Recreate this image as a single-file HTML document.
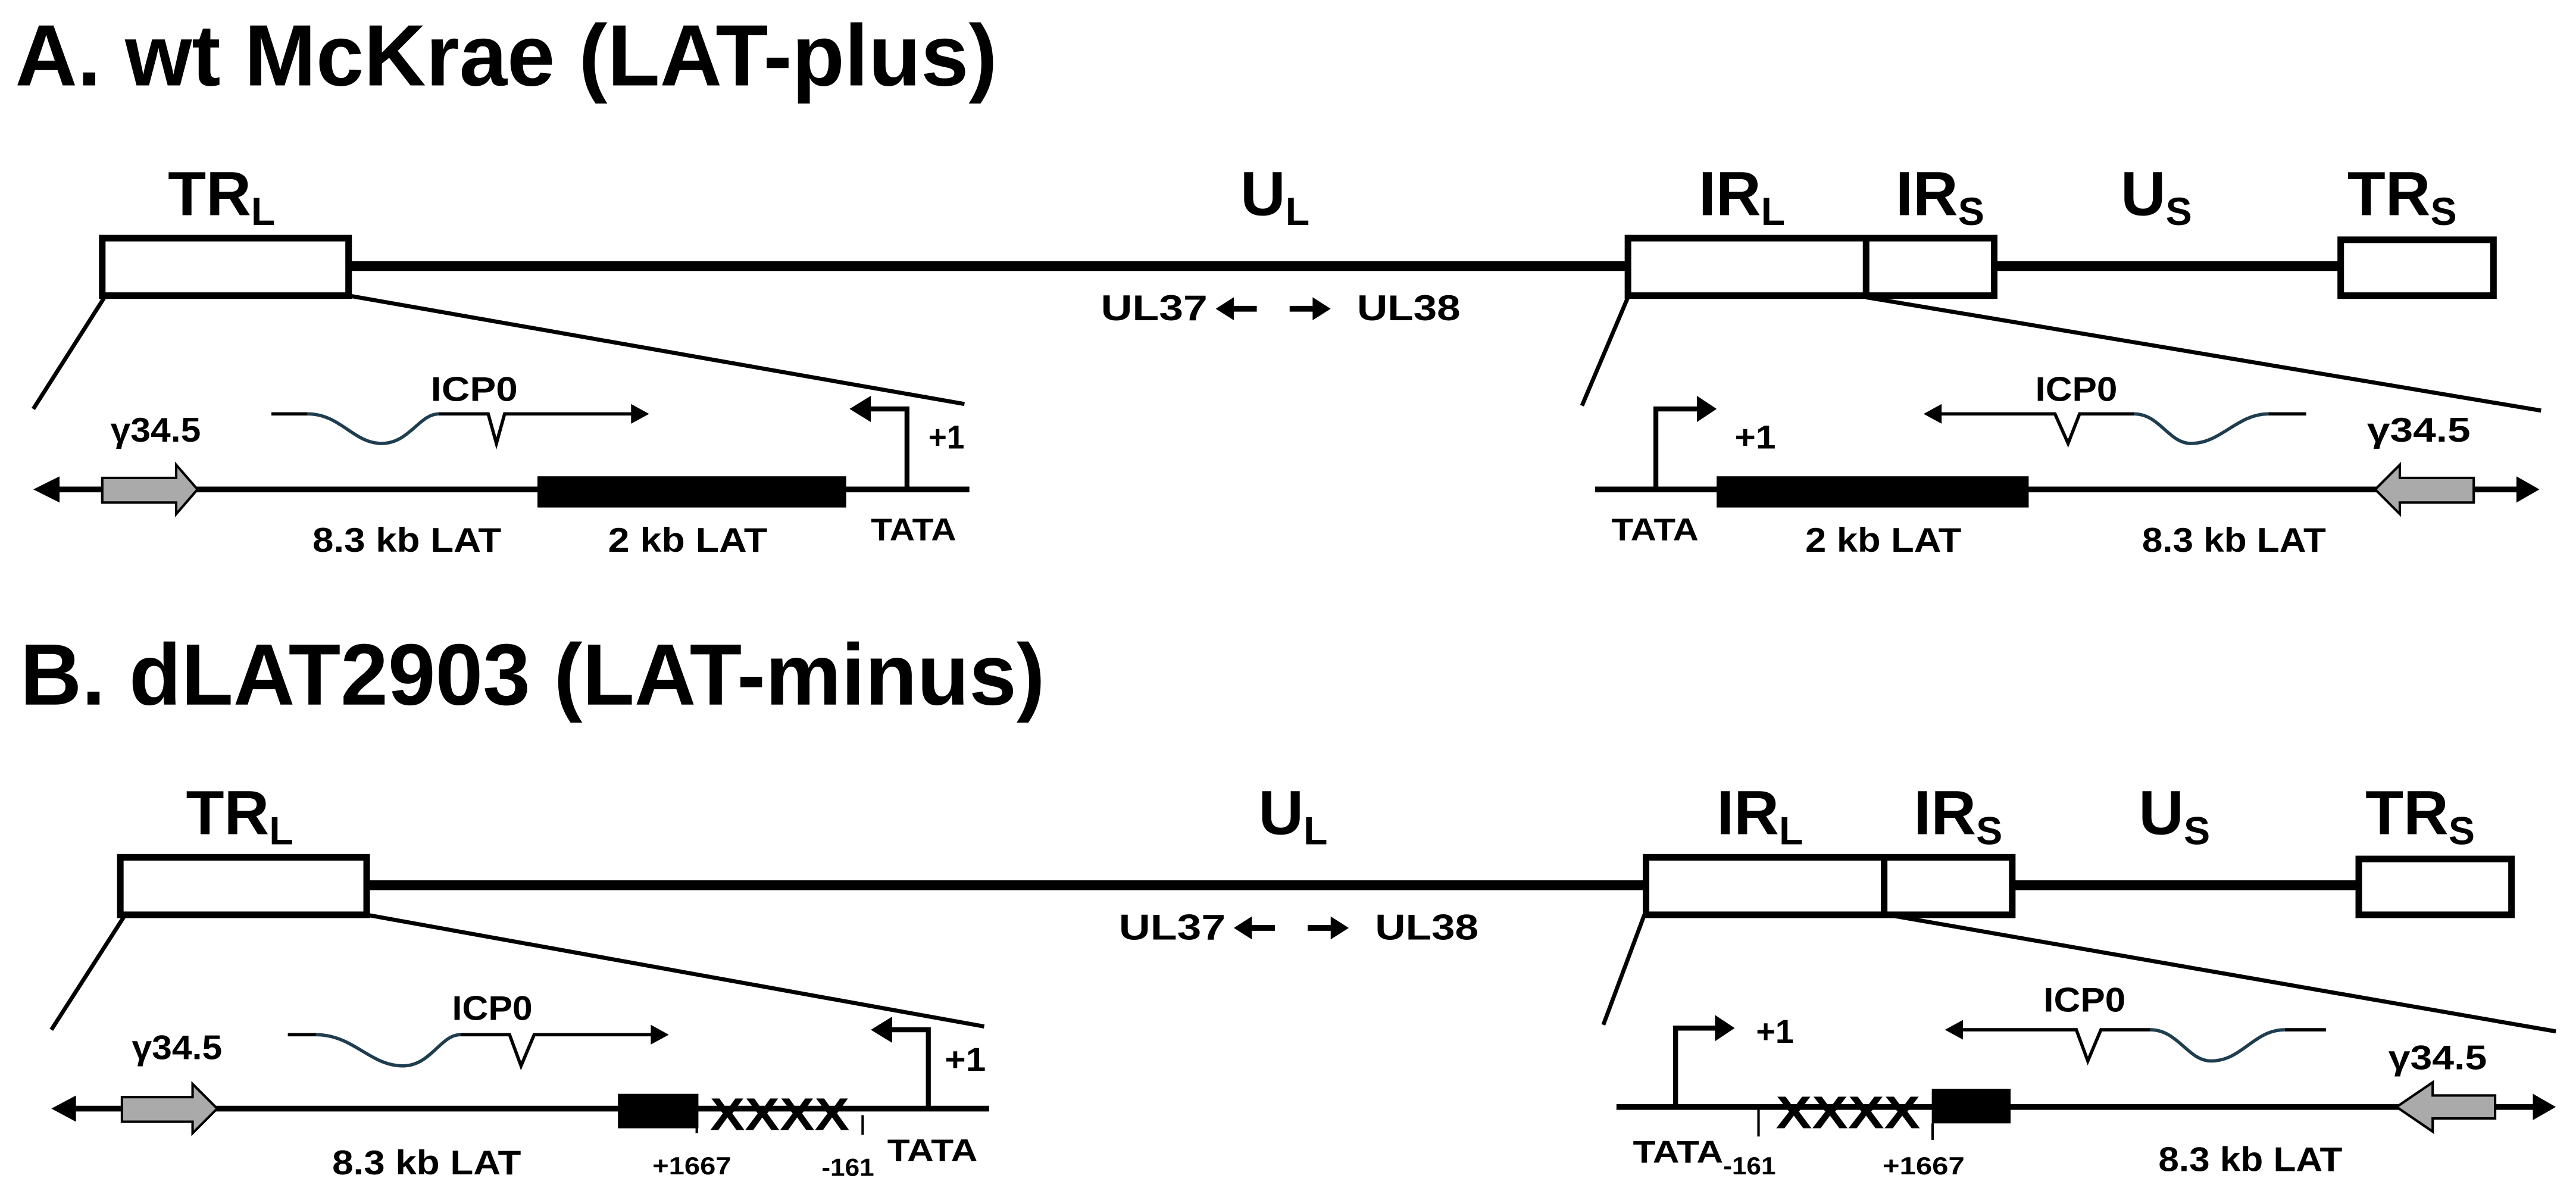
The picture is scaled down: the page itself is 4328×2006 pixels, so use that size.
<!DOCTYPE html>
<html><head><meta charset="utf-8"><style>html,body{margin:0;padding:0;background:#fff}svg{display:block}</style></head><body>
<svg width="4328" height="2006" viewBox="0 0 1568 727" xmlns="http://www.w3.org/2000/svg" font-family="Liberation Sans, Arial, sans-serif" font-weight="bold">
<rect width="1568" height="727" fill="#fff"/>

<!-- Titles -->
<text x="9" y="52" font-size="53" textLength="598" lengthAdjust="spacingAndGlyphs">A. wt McKrae (LAT-plus)</text>
<text x="12" y="429" font-size="53" textLength="624" lengthAdjust="spacingAndGlyphs">B. dLAT2903 (LAT-minus)</text>

<g id="genome">
  <line x1="212" y1="162" x2="991" y2="162" stroke="#000" stroke-width="6"/>
  <line x1="1214" y1="162" x2="1425" y2="162" stroke="#000" stroke-width="6"/>
  <rect x="62" y="145" width="150" height="35" fill="#fff" stroke="#000" stroke-width="4"/>
  <rect x="991" y="145" width="223" height="35" fill="#fff" stroke="#000" stroke-width="4"/>
  <line x1="1136" y1="145" x2="1136" y2="180" stroke="#000" stroke-width="4"/>
  <rect x="1425" y="146" width="93" height="34" fill="#fff" stroke="#000" stroke-width="4"/>
  <g font-size="38">
    <text x="102" y="131">TR<tspan font-size="24" dy="6">L</tspan></text>
    <text x="755" y="131">U<tspan font-size="24" dy="6">L</tspan></text>
    <text x="1034" y="131">IR<tspan font-size="24" dy="6">L</tspan></text>
    <text x="1154" y="131">IR<tspan font-size="24" dy="6">S</tspan></text>
    <text x="1291" y="131">U<tspan font-size="24" dy="6">S</tspan></text>
    <text x="1429" y="131">TR<tspan font-size="24" dy="6">S</tspan></text>
  </g>
  <text x="670" y="195" font-size="22" textLength="65" lengthAdjust="spacingAndGlyphs">UL37</text>
  <text x="826" y="195" font-size="22" textLength="63" lengthAdjust="spacingAndGlyphs">UL38</text>
  <line x1="748" y1="188" x2="765" y2="188" stroke="#000" stroke-width="3.5"/>
  <polygon points="740,188 751,181 751,195" fill="#000"/>
  <line x1="785" y1="188" x2="802" y2="188" stroke="#000" stroke-width="3.5"/>
  <polygon points="810,188 799,181 799,195" fill="#000"/>
</g>
<use href="#genome" transform="translate(11,377)"/>

<g stroke="#000" stroke-width="2.5">
  <line x1="64" y1="180" x2="20" y2="249"/>
  <line x1="212" y1="180" x2="587" y2="246"/>
  <line x1="991" y1="181" x2="963" y2="247"/>
  <line x1="1136" y1="181" x2="1547" y2="250"/>
  <line x1="76" y1="557" x2="31" y2="627"/>
  <line x1="223" y1="557" x2="599" y2="625"/>
  <line x1="1001" y1="557" x2="976" y2="624"/>
  <line x1="1149" y1="557" x2="1556" y2="628"/>
</g>

<!-- A lower left -->
<line x1="32" y1="298" x2="590" y2="298" stroke="#000" stroke-width="3.5"/>
<polygon points="20,298 36,290 36,306" fill="#000"/>
<polygon points="62,291 107,291 107,283 120,298 107,313 107,306 62,306" fill="#aaa" stroke="#000" stroke-width="1.5"/>
<rect x="327" y="290" width="188" height="19" fill="#000"/>
<path d="M552 298 V249 H528" fill="none" stroke="#000" stroke-width="3"/>
<polygon points="517,249 530,241 530,257" fill="#000"/>
<path d="M165 252 H187" stroke="#000" stroke-width="2" fill="none"/>
<path d="M187 252 C207 252 215 270 232 270 C249 270 255 252 267 252" stroke="#1e3d4f" stroke-width="2" fill="none"/>
<path d="M267 252 H297 L302 270 L307 252 H388" stroke="#000" stroke-width="2" fill="none"/>
<polygon points="395,252 384,246 384,258" fill="#000"/>
<text x="67" y="269" font-size="21" textLength="55" lengthAdjust="spacingAndGlyphs">γ34.5</text>
<text x="262" y="244" font-size="21" textLength="53" lengthAdjust="spacingAndGlyphs">ICP0</text>
<text x="565" y="273" font-size="20" textLength="22" lengthAdjust="spacingAndGlyphs">+1</text>
<text x="530" y="329" font-size="19" textLength="52" lengthAdjust="spacingAndGlyphs">TATA</text>
<text x="190" y="336" font-size="21" textLength="115" lengthAdjust="spacingAndGlyphs">8.3 kb LAT</text>
<text x="370" y="336" font-size="21" textLength="97" lengthAdjust="spacingAndGlyphs">2 kb LAT</text>

<!-- A lower right -->
<line x1="971" y1="298" x2="1535" y2="298" stroke="#000" stroke-width="3.5"/>
<polygon points="1546,298 1532,290 1532,306" fill="#000"/>
<path d="M1008 298 V249 H1034" fill="none" stroke="#000" stroke-width="3"/>
<polygon points="1045,249 1033,241 1033,257" fill="#000"/>
<rect x="1045" y="290" width="190" height="19" fill="#000"/>
<polygon points="1506,291 1461,291 1461,283 1446,298 1461,313 1461,306 1506,306" fill="#aaa" stroke="#000" stroke-width="1.5"/>
<path d="M1180 252 H1251 L1259 270 L1266 252 H1299" stroke="#000" stroke-width="2" fill="none"/>
<path d="M1299 252 C1315 252 1320 270 1334 270 C1352 270 1362 252 1381 252" stroke="#1e3d4f" stroke-width="2" fill="none"/>
<path d="M1381 252 H1404" stroke="#000" stroke-width="2" fill="none"/>
<polygon points="1171,252 1182,246 1182,258" fill="#000"/>
<text x="1441" y="269" font-size="21" textLength="63" lengthAdjust="spacingAndGlyphs">γ34.5</text>
<text x="1239" y="244" font-size="21" textLength="50" lengthAdjust="spacingAndGlyphs">ICP0</text>
<text x="1056" y="273" font-size="20" textLength="25" lengthAdjust="spacingAndGlyphs">+1</text>
<text x="981" y="329" font-size="19" textLength="53" lengthAdjust="spacingAndGlyphs">TATA</text>
<text x="1099" y="336" font-size="21" textLength="95" lengthAdjust="spacingAndGlyphs">2 kb LAT</text>
<text x="1304" y="336" font-size="21" textLength="112" lengthAdjust="spacingAndGlyphs">8.3 kb LAT</text>

<!-- B lower left -->
<line x1="42" y1="675" x2="602" y2="675" stroke="#000" stroke-width="3.5"/>
<polygon points="31,675 46,667 46,683" fill="#000"/>
<polygon points="74,668 117,668 117,660 132,675 117,690 117,683 74,683" fill="#aaa" stroke="#000" stroke-width="1.5"/>
<rect x="376" y="666" width="49" height="21" fill="#000"/>
<line x1="424" y1="675" x2="424" y2="690" stroke="#000" stroke-width="1.5"/>
<line x1="525" y1="679" x2="525" y2="691" stroke="#000" stroke-width="1.5"/>
<text x="432" y="688" font-size="28" textLength="85" lengthAdjust="spacingAndGlyphs">XXXX</text>
<path d="M565 675 V627 H541" fill="none" stroke="#000" stroke-width="3"/>
<polygon points="530,627 543,619 543,635" fill="#000"/>
<path d="M175 630 H192" stroke="#000" stroke-width="2" fill="none"/>
<path d="M192 630 C215 630 225 649 245 649 C262 649 268 630 280 630" stroke="#1e3d4f" stroke-width="2" fill="none"/>
<path d="M280 630 H310 L317 649 L325 630 H400" stroke="#000" stroke-width="2" fill="none"/>
<polygon points="407,630 396,624 396,636" fill="#000"/>
<text x="80" y="645" font-size="21" textLength="55" lengthAdjust="spacingAndGlyphs">γ34.5</text>
<text x="275" y="621" font-size="21" textLength="49" lengthAdjust="spacingAndGlyphs">ICP0</text>
<text x="575" y="652" font-size="20" textLength="25" lengthAdjust="spacingAndGlyphs">+1</text>
<text x="540" y="707" font-size="19" textLength="55" lengthAdjust="spacingAndGlyphs">TATA</text>
<text x="202" y="715" font-size="21" textLength="115" lengthAdjust="spacingAndGlyphs">8.3 kb LAT</text>
<text x="397" y="715" font-size="15" textLength="48" lengthAdjust="spacingAndGlyphs">+1667</text>
<text x="500" y="716" font-size="15" textLength="32" lengthAdjust="spacingAndGlyphs">-161</text>

<!-- B lower right -->
<line x1="984" y1="674" x2="1545" y2="674" stroke="#000" stroke-width="3.5"/>
<polygon points="1556,674 1542,666 1542,682" fill="#000"/>
<path d="M1020 674 V626 H1045" fill="none" stroke="#000" stroke-width="3"/>
<polygon points="1056,626 1044,618 1044,634" fill="#000"/>
<text x="1081" y="687" font-size="28" textLength="88" lengthAdjust="spacingAndGlyphs">XXXX</text>
<rect x="1176" y="663" width="48" height="21" fill="#000"/>
<line x1="1070.5" y1="675" x2="1070.5" y2="692" stroke="#000" stroke-width="1.5"/>
<line x1="1176.5" y1="684" x2="1176.5" y2="694" stroke="#000" stroke-width="1.5"/>
<polygon points="1519,667 1481,667 1481,659 1459,674 1481,689 1481,681 1519,681" fill="#aaa" stroke="#000" stroke-width="1.5"/>
<path d="M1193 627 H1264 L1271 646 L1279 627 H1309" stroke="#000" stroke-width="2" fill="none"/>
<path d="M1309 627 C1326 627 1332 646 1346 646 C1365 646 1372 627 1391 627" stroke="#1e3d4f" stroke-width="2" fill="none"/>
<path d="M1391 627 H1416" stroke="#000" stroke-width="2" fill="none"/>
<polygon points="1184,627 1195,621 1195,633" fill="#000"/>
<text x="1454" y="651" font-size="21" textLength="60" lengthAdjust="spacingAndGlyphs">γ34.5</text>
<text x="1244" y="616" font-size="21" textLength="50" lengthAdjust="spacingAndGlyphs">ICP0</text>
<text x="1069" y="635" font-size="20" textLength="23" lengthAdjust="spacingAndGlyphs">+1</text>
<text x="994" y="708" font-size="19" textLength="55" lengthAdjust="spacingAndGlyphs">TATA</text>
<text x="1049" y="715" font-size="15" textLength="32" lengthAdjust="spacingAndGlyphs">-161</text>
<text x="1146" y="715" font-size="15" textLength="50" lengthAdjust="spacingAndGlyphs">+1667</text>
<text x="1314" y="713" font-size="21" textLength="112" lengthAdjust="spacingAndGlyphs">8.3 kb LAT</text>
</svg>
</body></html>
